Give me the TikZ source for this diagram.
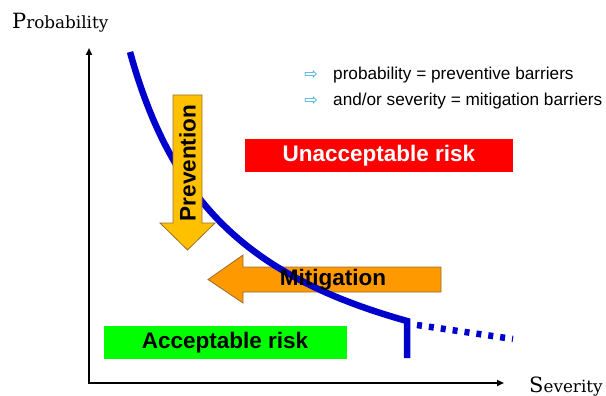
\documentclass[tikz,border=0pt]{standalone}
\usepackage{fontspec}
\setsansfont{Liberation Sans}
\newfontfamily\symfont{DejaVu Sans}
\newfontfamily\axisfont{DejaVu Serif}
\usetikzlibrary{arrows.meta}
\definecolor{curveblue}{RGB}{0,0,204}
\definecolor{prevfill}{RGB}{255,192,0}
\definecolor{mitfill}{RGB}{255,153,0}
\definecolor{arrowedge}{RGB}{150,110,50}
\definecolor{riskred}{RGB}{255,0,0}
\definecolor{riskgreen}{RGB}{0,255,0}
\definecolor{legendblue}{RGB}{59,167,224}
\tikzset{
  axisline/.style={line width=2pt,-{Triangle[length=7pt,width=6pt]}},
  blockarrow/.style={draw=arrowedge,line width=0.8pt,line join=miter},
  riskcurve/.style={curveblue,line width=6.5pt},
  bigtext/.style={font=\sffamily\bfseries\fontsize{22.5}{24}\selectfont,inner sep=0pt},
  legendtext/.style={font=\sffamily\fontsize{17.2}{19}\selectfont,anchor=west,inner sep=0pt},
  legendmark/.style={font=\symfont\fontsize{16}{18}\selectfont,text=legendblue,inner sep=0pt},
  axislabel/.style={inner sep=0pt,font=\axisfont}
}
\begin{document}
\begin{tikzpicture}[x=1pt,y=-1pt]
\useasboundingbox (0,0) rectangle (606,396);

% axes
\coordinate (origin) at (89,383);
\coordinate (ytip) at (89,48);
\coordinate (xtip) at (504,383);
\draw[axisline] ([yshift=-1pt]origin) -- (ytip);
\draw[axisline] ([xshift=-1pt]origin) -- (xtip);
\node[axislabel,anchor=base west] (ylabel) at (12,29)
  {{\fontsize{21}{21}\selectfont P}{\fontsize{16.8}{17}\selectfont robability}};
\node[axislabel,anchor=base west] (xlabel) at (529,392)
  {{\fontsize{21}{21}\selectfont S}{\fontsize{16.8}{17}\selectfont everity}};

% risk regions
\fill[riskred] (245,139) rectangle (513,172);
\node[bigtext,text=white] (unacc) at (379,155.5) {Unacceptable risk};
\fill[riskgreen] (104,326) rectangle (347,359);
\node[bigtext] (acc) at (225,342.5) {Acceptable risk};

% mitigation arrow (under the curve)
\draw[blockarrow,fill=mitfill]
  (441,267) -- (243,267) -- (243,255) -- (208,279.5) -- (243,303) -- (243,292) -- (441,292) -- cycle;

% acceptability limit
\draw[riskcurve,line join=miter]
  (130,52) .. controls (172,204) and (250,277) .. (407,321) -- (407,358);
\draw[riskcurve,dash pattern=on 5pt off 7pt] (417,325) -- (513,339);

% prevention arrow (over the curve)
\draw[blockarrow,fill=prevfill]
  (173,95) -- (202,95) -- (202,223) -- (215,223) -- (187.5,250) -- (160,223) -- (173,223) -- cycle;
\node[bigtext,rotate=90] (prev) at (187.5,163) {Prevention};
\node[bigtext] (mit) at (333,279.5) {Mitigation};

% legend
\node[legendmark] (m1) at (311,75) {⇨};
\node[legendtext] (l1) at (333,75) {probability = preventive barriers};
\node[legendmark] (m2) at (311,101) {⇨};
\node[legendtext] (l2) at (333,101) {and/or severity = mitigation barriers};
\end{tikzpicture}
\end{document}
